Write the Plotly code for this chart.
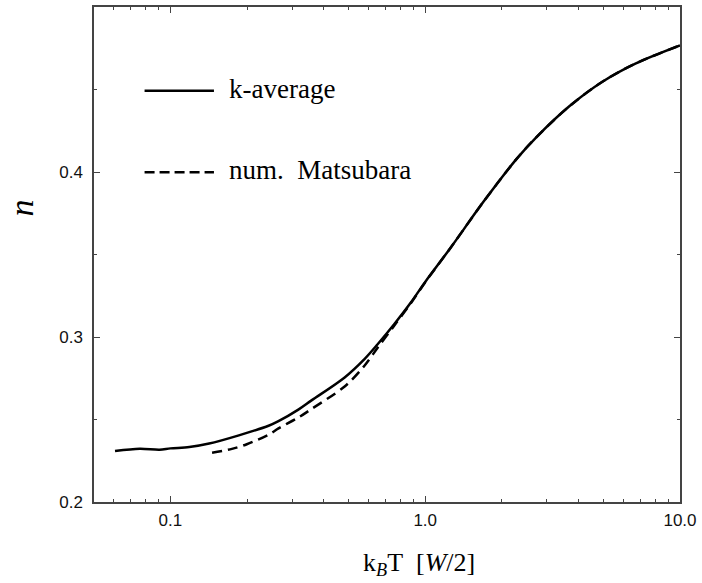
import plotly.graph_objects as go

# k-average curve
T_kavg = [0.0606, 0.0758, 0.0906, 0.1, 0.1186, 0.1419, 0.1856, 0.2427, 0.2655, 0.3177,
          0.3579, 0.4828, 0.5775, 0.6505, 0.7552, 0.8766, 1.003, 1.254, 1.692, 2.280,
          2.728, 3.677, 4.959, 6.683, 10.0]
n_kavg = [0.2309, 0.2323, 0.2317, 0.2325, 0.2333, 0.2354, 0.2404, 0.2462, 0.2490, 0.2560,
          0.2616, 0.2755, 0.2866, 0.2956, 0.3077, 0.3207, 0.3337, 0.3538, 0.3819, 0.4078,
          0.4210, 0.4398, 0.4547, 0.4657, 0.4767]

# numerical Matsubara curve
T_mats = [0.1457, 0.1743, 0.1994, 0.2427, 0.2655, 0.3179, 0.3579, 0.4828, 0.5775, 0.6505,
          0.7552, 0.8766, 1.003, 1.254, 1.692, 2.280, 2.728, 3.677, 4.959, 6.683, 10.0]
n_mats = [0.2299, 0.2322, 0.2350, 0.2408, 0.2446, 0.2512, 0.2564, 0.2700, 0.2826, 0.2935,
          0.3068, 0.3203, 0.3335, 0.3538, 0.3819, 0.4078, 0.4210, 0.4398, 0.4547, 0.4657, 0.4767]

x_major = [0.1, 1.0, 10.0]
x_major_labels = ["0.1", "1.0", "10.0"]
x_minor = [0.06, 0.07, 0.08, 0.09, 0.2, 0.3, 0.4, 0.5, 0.6, 0.7, 0.8, 0.9,
           2, 3, 4, 5, 6, 7, 8, 9]
y_major = [0.2, 0.3, 0.4]
y_major_labels = ["0.2", "0.3", "0.4"]
y_minor = [0.25, 0.35, 0.45]

legend_names = ["k-average", "num.&nbsp; Matsubara"]

fig = go.Figure()
fig.add_trace(go.Scatter(x=T_mats, y=n_mats, mode="lines", name=legend_names[1],
                         line=dict(color="black", width=2.5, dash="10px,6px", shape="spline", smoothing=0.9),
                         showlegend=False))
fig.add_trace(go.Scatter(x=T_kavg, y=n_kavg, mode="lines", name=legend_names[0],
                         line=dict(color="black", width=2.5, shape="spline", smoothing=0.9),
                         showlegend=False))

axis_common = dict(showline=True, linecolor="#444", linewidth=1.5, mirror="ticks",
                   ticks="inside", ticklen=6, tickwidth=1, tickcolor="#444",
                   showgrid=False, zeroline=False, ticklabeloverflow="allow",
                   tickfont=dict(family="Liberation Sans", size=17, color="#111"))

fig.update_xaxes(type="log", range=[-1.3, 1.0], tickmode="array", tickvals=x_major,
                 ticktext=x_major_labels, ticklabelstandoff=2,
                 minor=dict(tickmode="array", tickvals=x_minor, ticks="inside", ticklen=3,
                            tickcolor="#444", tickwidth=1, showgrid=False),
                 **axis_common)
fig.update_yaxes(range=[0.2, 0.5], tickmode="array", tickvals=y_major, ticktext=y_major_labels,
                 ticklabelstandoff=6,
                 minor=dict(tickmode="array", tickvals=y_minor, ticks="inside", ticklen=3.5,
                            tickcolor="#444", tickwidth=1, showgrid=False),
                 **axis_common)

serif = "Liberation Serif"

# legend drawn inside the plot
leg_y = [0.831, 0.666]
dashes = ["solid", "10px,5px"]
for i in range(2):
    fig.add_shape(type="line", xref="paper", yref="paper", x0=0.0863, x1=0.2047,
                  y0=leg_y[i], y1=leg_y[i], line=dict(color="black", width=2.5, dash=dashes[i]))
    fig.add_annotation(xref="paper", yref="paper", x=0.2267, y=leg_y[i] + 0.004, text=legend_names[i],
                       showarrow=False, xanchor="left", yanchor="middle",
                       font=dict(family=serif, size=27, color="black"))

# axis titles
fig.add_annotation(xref="paper", yref="paper", x=0.555, y=-0.125,
                   text="k<sub><i>B</i></sub>T&nbsp; [<i>W</i>/2]", showarrow=False,
                   xanchor="center", yanchor="middle",
                   font=dict(family=serif, size=26, color="black"))
fig.add_annotation(xref="paper", yref="paper", x=-0.1235, y=0.594, text="<i>n</i>",
                   showarrow=False, textangle=-90, xanchor="center", yanchor="middle",
                   font=dict(family=serif, size=34, color="black"))

fig.update_layout(width=702, height=583, margin=dict(l=94, r=17, t=5, b=81),
                  plot_bgcolor="white", paper_bgcolor="white", showlegend=False)

fig.write_html("out.html", config={"displayModeBar": False},
               post_script="document.body.style.margin='0';document.body.style.overflow='hidden';")
